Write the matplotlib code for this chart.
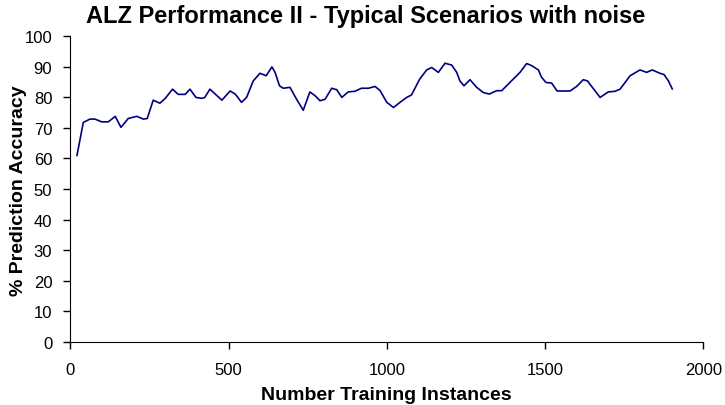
import matplotlib
matplotlib.use("Agg")
import matplotlib.pyplot as plt

# accuracy curve (training instances, % accuracy)
instances = [21, 41, 62, 78, 99, 120, 142, 160, 183, 210, 231, 243, 262, 283, 300,
             323, 341, 363, 378, 397, 415, 425, 441, 479, 505, 521, 541, 557, 578,
             599, 619, 637, 647, 661, 673, 694, 715, 736, 757, 774, 789, 805, 826,
             842, 858, 878, 899, 920, 942, 963, 979, 1000, 1021, 1042, 1063, 1078,
             1104, 1126, 1142, 1163, 1184, 1205, 1221, 1231, 1244, 1263, 1284, 1305,
             1324, 1347, 1363, 1389, 1421, 1442, 1458, 1479, 1489, 1503, 1521, 1538,
             1579, 1600, 1621, 1634, 1674, 1700, 1721, 1737, 1769, 1800, 1821, 1839,
             1863, 1876, 1890, 1902]
accuracy = [61, 71.8, 72.9, 72.9, 72, 72, 73.8, 70.2, 73.1, 73.8, 72.9, 73.1, 79.1,
            78.1, 79.7, 82.7, 81, 81, 82.7, 80, 79.7, 80, 82.7, 79.1, 82.1, 81.1,
            78.4, 80, 85.4, 87.9, 87.1, 90, 88.2, 83.8, 83, 83.3, 79.4, 75.8, 81.8,
            80.5, 78.9, 79.4, 83, 82.5, 80, 81.8, 82, 83, 83, 83.6, 82.2, 78.4, 76.7,
            78.4, 80, 80.8, 86, 89, 89.8, 88.2, 91.2, 90.6, 88.2, 85.4, 83.8, 85.8,
            83.3, 81.6, 81.1, 82.2, 82.2, 84.9, 88.2, 91.1, 90.4, 89, 86.6, 84.9,
            84.7, 82.1, 82.1, 83.6, 85.8, 85.4, 80, 81.8, 82, 82.7, 87.1, 89, 88.2,
            89, 87.9, 87.5, 85.4, 82.8]

plt.rcParams['font.family'] = ['Liberation Sans', 'DejaVu Sans']

fig = plt.figure(figsize=(7.25, 4.06), dpi=100)
ax = fig.add_axes([0.097, 0.156, 0.873, 0.752])

ax.plot(instances, accuracy, color='#000080', linewidth=1.2)

ax.set_xlim(0, 2000)
ax.set_ylim(0, 100)
ax.set_xticks(range(0, 2001, 500))
ax.set_yticks(range(0, 101, 10))
ax.tick_params(labelsize=12, length=5, width=1)
ax.tick_params(axis='x', pad=10)
ax.tick_params(axis='y', pad=8)
ax.spines['top'].set_visible(False)
ax.spines['right'].set_visible(False)

fig.text(366 / 725, 1 - 17 / 406, "ALZ Performance II - Typical Scenarios with noise",
         fontsize=17, fontweight='bold', ha='center', va='center')
ax.set_xlabel("Number Training Instances", fontsize=14, fontweight='bold', labelpad=6)
fig.text(19 / 725, 1 - 191 / 406, "% Prediction Accuracy", fontsize=14,
         fontweight='bold', rotation=90, ha='center', va='center')

fig.savefig("out.png", dpi=100)
plt.close(fig)
